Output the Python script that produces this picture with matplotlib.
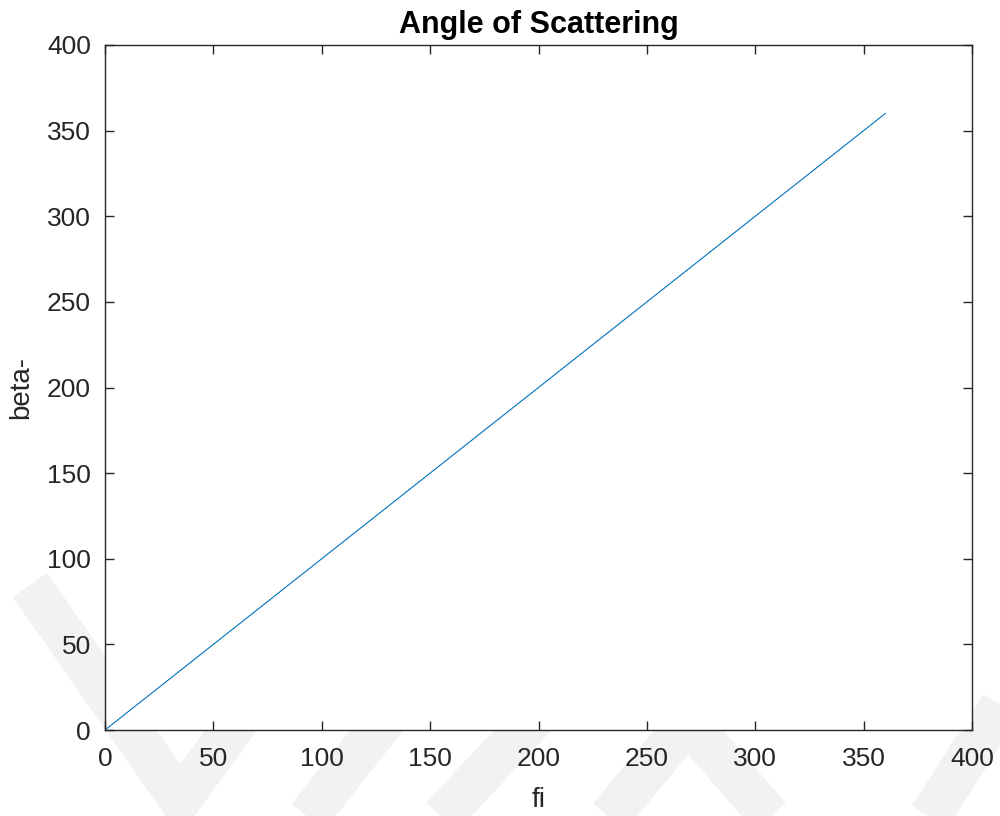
import numpy as np
import matplotlib.pyplot as plt
from matplotlib.lines import Line2D

# data: beta- follows fi one to one
fi = [0, 360]
beta = [0, 360]
ticks = [0, 50, 100, 150, 200, 250, 300, 350, 400]

plt.rcParams['font.family'] = ['Liberation Sans', 'DejaVu Sans']
txt = '#262626'

fig = plt.figure(figsize=(10, 8.16), dpi=100)
W, H = 1000, 816

# faint watermark behind the axes
def band(pts, lw=42):
    xs = [p[0] / W for p in pts]
    ys = [1 - p[1] / H for p in pts]
    fig.add_artist(Line2D(xs, ys, transform=fig.transFigure, color='#f2f2f2',
                          lw=lw * 0.72, solid_capstyle='butt',
                          solid_joinstyle='miter', zorder=0))

band([(30, 585), (180, 800), (320, 610)])
band([(290, 840), (440, 650)])
band([(420, 840), (570, 680)])
band([(590, 840), (688, 722), (790, 840)])
band([(1030, 660), (915, 840)])

ax = fig.add_axes([0.105, 1 - 730 / H, 0.867, (730 - 45) / H])
ax.set_zorder(1)
ax.plot(fi, beta, color='#0072BD', lw=0.8)

ax.set_xlim(0, 400)
ax.set_ylim(0, 400)
ax.set_xticks(ticks)
ax.set_yticks(ticks)
ax.tick_params(direction='in', length=6.5, width=1, top=True, right=True,
               labelsize=19, colors=txt, pad=12)
ax.tick_params(axis='y', pad=10)
for s in ax.spines.values():
    s.set_linewidth(1.0)
    s.set_color(txt)

ax.set_title('Angle of Scattering', fontsize=22, fontweight='bold', color='black', pad=9)
ax.set_xlabel('fi', fontsize=20, color=txt, labelpad=12)
ax.set_ylabel('beta-', fontsize=20, color=txt, labelpad=9)

fig.savefig('out.png')
